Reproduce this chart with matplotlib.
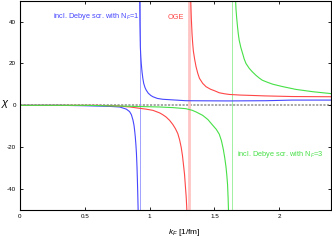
import matplotlib
matplotlib.use("Agg")
import matplotlib.pyplot as plt

plt.rcParams['font.family'] = ['Liberation Sans', 'DejaVu Sans']
plt.rcParams['axes.unicode_minus'] = False
plt.rcParams['mathtext.fontset'] = 'custom'
plt.rcParams['mathtext.rm'] = 'Liberation Sans'
plt.rcParams['mathtext.it'] = 'Liberation Sans:italic'

# values (k_F in 1/fm, chi)
blue_lo_k = [0.0, 0.3, 0.5, 0.69, 0.77, 0.82, 0.846, 0.86, 0.872, 0.88, 0.885, 0.89,
             0.895, 0.899, 0.903, 0.906, 0.909, 0.912]
blue_lo_chi = [0, 0, -0.2, -0.5, -0.8, -1.8, -3, -4.5, -7, -9.5, -12, -15,
               -19, -23, -29, -35, -42, -50]
blue_hi_k = [0.924, 0.926, 0.929, 0.932, 0.936, 0.942, 0.948, 0.955, 0.965, 0.974, 0.99,
             1.01, 1.026, 1.06, 1.10, 1.28, 1.6, 1.9, 2.1, 2.4]
blue_hi_chi = [50, 38, 28, 24, 20, 16, 13, 10.5, 8.5, 7.3, 5.8,
               4.7, 4.1, 3.3, 2.9, 2.2, 2.1, 2.2, 2.5, 2.5]

red_lo_k = [0.0, 0.6, 0.75, 0.85, 0.92, 0.97, 1.026, 1.077, 1.10, 1.128, 1.155, 1.18, 1.20,
            1.218, 1.232, 1.244, 1.254, 1.262, 1.27, 1.277, 1.283, 1.288]
red_lo_chi = [0, 0, -0.3, -0.8, -1.4, -1.8, -2.4, -3.6, -4.4, -5.6, -7.2, -9.2, -11.2,
              -13.5, -16.5, -20, -24, -28.5, -33, -39, -44, -50]
red_hi_k = [1.318, 1.322, 1.328, 1.333, 1.338, 1.348, 1.359, 1.372, 1.385, 1.41, 1.436,
            1.47, 1.5, 1.538, 1.58, 1.615, 1.7, 1.8, 1.89, 2.1, 2.4]
red_hi_chi = [50, 42, 34, 29.5, 26, 22, 18.4, 15.3, 12.9, 10.5, 8.9,
              7.7, 7.0, 6.0, 5.5, 5.2, 4.9, 4.7, 4.5, 4.2, 4.1]

green_lo_k = [0.0, 0.5, 0.8, 1.077, 1.18, 1.28, 1.33, 1.36, 1.41, 1.45, 1.487, 1.515,
              1.538, 1.555, 1.569, 1.58, 1.59, 1.597, 1.602, 1.606, 1.609]
green_lo_chi = [0, 0, -0.4, -0.8, -1.1, -1.6, -2.4, -3.2, -4.8, -6.8, -9.5, -11.5,
                -13.8, -17, -21, -25, -29.5, -34, -38, -44, -50]
green_hi_k = [1.664, 1.667, 1.672, 1.679, 1.685, 1.692, 1.705, 1.718, 1.73, 1.744, 1.77,
              1.795, 1.82, 1.845, 1.87, 1.91, 1.95, 2.03, 2.13, 2.26, 2.4]
green_hi_chi = [50, 46, 42, 37.4, 34, 31, 27.5, 24.8, 22.2, 20, 17.6,
                15.9, 14.4, 13.1, 12, 11, 10.1, 8.9, 7.6, 6.5, 5.6]

poles = [0.923, 1.307, 1.64]
x_ticks = [0, 0.5, 1, 1.5, 2]
y_ticks = [-40, -20, 0, 20, 40]

blue, red, green = '#4646ff', '#ff4646', '#46e046'

fig = plt.figure(figsize=(3.32, 2.41), dpi=100)
ax = fig.add_axes([0.060, 0.129, 0.937, 0.868])

ax.axhline(0, color='#a0a0a0', lw=1.3, ls=(0, (1.2, 0.8)), zorder=1)
ax.axvline(poles[0], color='#9090ff', lw=0.6, zorder=1)
ax.axvline(poles[1], color='#ffc4c4', lw=2.0, zorder=1)
ax.axvline(poles[2], color='#a0f0a0', lw=0.7, zorder=1)

ax.plot(blue_lo_k, blue_lo_chi, color=blue, lw=0.8)
ax.plot(blue_hi_k, blue_hi_chi, color=blue, lw=0.8)
ax.plot(red_lo_k, red_lo_chi, color=red, lw=0.8)
ax.plot(red_hi_k, red_hi_chi, color=red, lw=0.8)
ax.plot(green_lo_k, green_lo_chi, color=green, lw=0.8)
ax.plot(green_hi_k, green_hi_chi, color=green, lw=0.8)

ax.text(0.254, 42.5, 'incl. Debye scr. with N$_F$=1', color=blue, fontsize=5.3, va='center')
ax.text(1.14, 42.0, 'OGE', color=red, fontsize=5.3, va='center')
ax.text(1.677, -23.7, 'incl. Debye scr. with N$_F$=3', color=green, fontsize=5.3, va='center')

ax.set_xlim(0, 2.4)
ax.set_ylim(-50, 50)
ax.set_xticks(x_ticks)
ax.set_xticklabels(['0', '0.5', '1', '1.5', '2'])
ax.set_yticks(y_ticks)
ax.tick_params(direction='in', top=True, right=True, length=2.5, width=0.6,
               labelsize=4.5, pad=3)
for s in ax.spines.values():
    s.set_linewidth(0.8)

ax.set_xlabel('$k_F$ [1/fm]', fontsize=6)
ax.set_ylabel(r'$\chi$', fontsize=8, rotation=0, labelpad=2)
ax.yaxis.set_label_coords(-0.045, 0.48)
ax.xaxis.set_label_coords(0.53, -0.08)

fig.savefig('out.png', dpi=100)
